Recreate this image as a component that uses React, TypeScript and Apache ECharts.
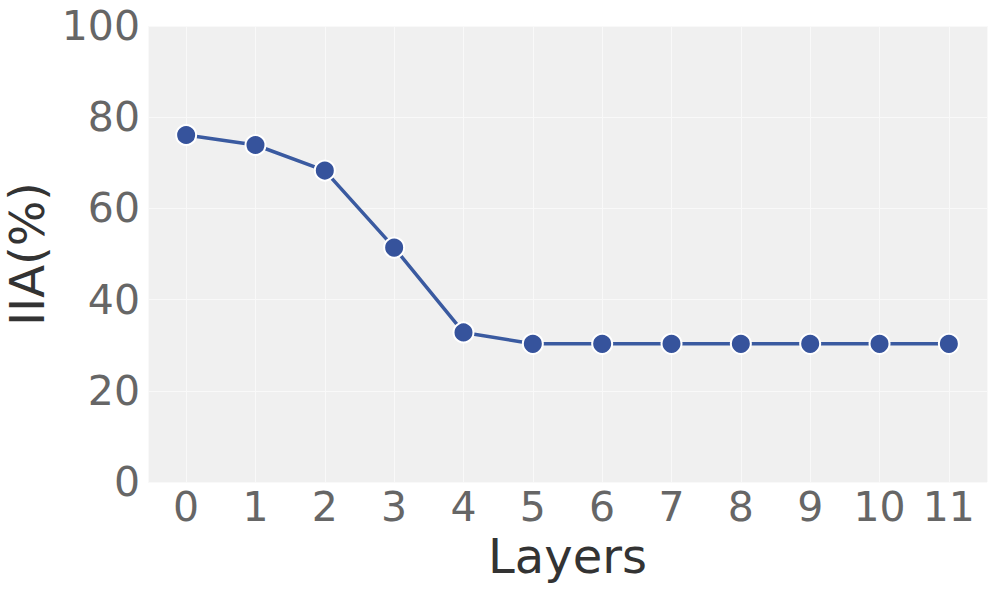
import React, { useEffect, useRef } from "react";
import * as echarts from "echarts";

const layers: number[] = [0, 1, 2, 3, 4, 5, 6, 7, 8, 9, 10, 11];
const iia: number[] = [76.1, 73.9, 68.3, 51.4, 32.8, 30.3, 30.3, 30.3, 30.3, 30.3, 30.3, 30.3];
const yTicks: number[] = [0, 20, 40, 60, 80, 100];

export default function App() {
  const ref = useRef<HTMLDivElement>(null);
  useEffect(() => {
    if (!ref.current) return;
    const chart = echarts.init(ref.current, undefined, { renderer: "svg" });
    const font = "'DejaVu Sans', sans-serif";
    chart.setOption({
      animation: false,
      backgroundColor: "#ffffff",
      grid: {
        left: 148,
        top: 26,
        right: 10,
        bottom: 109,
        show: true,
        backgroundColor: "#f0f0f0",
        borderWidth: 0,
        containLabel: false,
        outerBoundsMode: "none",
      },
      xAxis: {
        type: "value",
        min: -0.55,
        max: 11.55,
        splitNumber: 12,
        minInterval: 1,
        maxInterval: 1,
        name: "Layers",
        nameLocation: "middle",
        nameGap: 44,
        nameTextStyle: { fontFamily: font, fontSize: 48, color: "#333333" },
        axisLine: { show: false },
        axisTick: { show: false },
        axisLabel: {
          fontFamily: font,
          fontSize: 41,
          color: "#666666",
          margin: 4,
          showMinLabel: false,
          showMaxLabel: false,
          formatter: (v: number) => (layers.includes(v) ? String(v) : ""),
        },
        splitLine: { show: true, lineStyle: { color: "#f9f9f9", width: 1 } },
      },
      yAxis: {
        type: "value",
        min: yTicks[0],
        max: yTicks[yTicks.length - 1],
        interval: 20,
        name: "IIA(%)",
        nameLocation: "middle",
        nameGap: 96,
        nameTextStyle: { fontFamily: font, fontSize: 48, color: "#333333" },
        axisLine: { show: false },
        axisTick: { show: false },
        axisLabel: { fontFamily: font, fontSize: 41, color: "#666666", margin: 8 },
        splitLine: { show: true, lineStyle: { color: "#f9f9f9", width: 1 } },
      },
      series: [
        {
          type: "line",
          data: layers.map((l, i) => [l, iia[i]]),
          symbol: "circle",
          symbolSize: 20,
          lineStyle: { color: "#3a5aa0", width: 3.5 },
          itemStyle: { color: "#36539c", borderColor: "#ffffff", borderWidth: 2 },
          z: 3,
        },
      ],
    });
    return () => chart.dispose();
  }, []);
  return <div ref={ref} style={{ width: 997, height: 591, position: "absolute", left: 0, top: 0 }} />;
}
